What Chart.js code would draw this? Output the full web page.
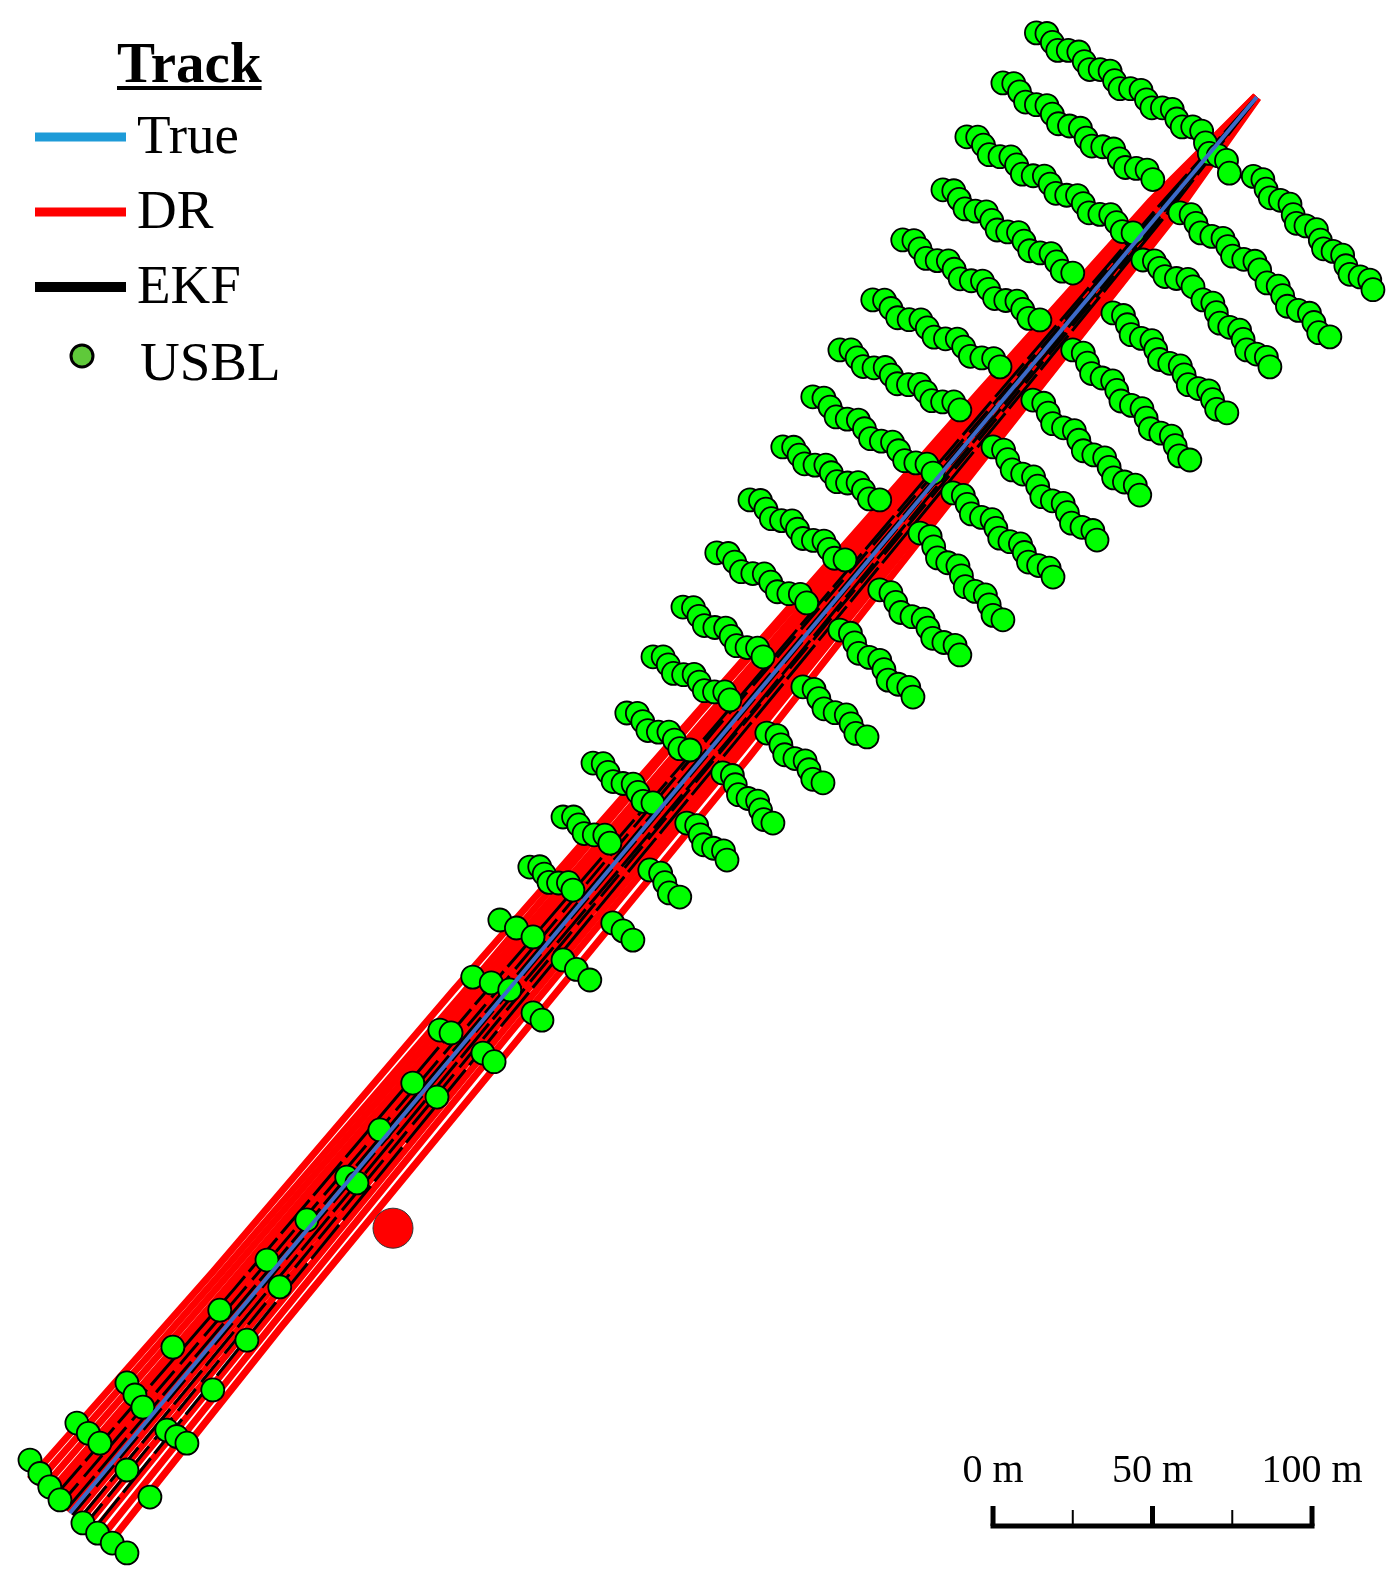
<!DOCTYPE html>
<html lang="en">
<head>
    <meta charset="UTF-8">
    <title>Vehicle track - True / DR / EKF / USBL</title>
    <script src="https://cdn.jsdelivr.net/npm/chart.js"></script>
    <style>
        html, body { margin: 0; padding: 0; background: #fff; }
        #wrap { position: relative; width: 1394px; height: 1581px; }
    </style>
</head>
<body>
    <div id="wrap"><canvas id="trackChart"></canvas></div>

    <script>
        // Map extent in metres, origin at the start of the true track
        const xRange = [-21.9, 415.1];
        const yRange = [-21.3, 474.3];

        // True track (x, y in m)
        const trueTrack = [[0, 0], [372.1, 443.9]];

        // Dead-reckoning runs
        const drTracks = [
            [[-12.6, 10.6], [44.9, 75.7], [120.2, 163.8], [196.6, 250.9], [284.6, 350.9], [338.8, 411.4], [371.7, 444.2]],
            [[-10.7, 9.0], [46.6, 74.3], [122.4, 162.0], [197.2, 250.5], [285.5, 350.2], [339.3, 410.9], [371.8, 444.2]],
            [[-8.8, 7.4], [48.2, 73.0], [123.8, 160.8], [199.1, 248.8], [286.3, 349.5], [339.8, 410.5], [371.8, 444.1]],
            [[-6.9, 5.8], [49.9, 71.6], [125.2, 159.6], [200.3, 247.8], [287.2, 348.7], [340.4, 410.0], [371.9, 444.1]],
            [[-5.4, 4.5], [51.2, 70.5], [126.3, 158.7], [201.3, 247.0], [287.8, 348.2], [340.8, 409.7], [371.9, 444.0]],
            [[-3.8, 3.2], [52.5, 69.4], [127.4, 157.7], [202.3, 246.2], [288.5, 347.6], [341.2, 409.3], [372.0, 444.0]],
            [[-2.3, 1.9], [53.8, 68.3], [128.5, 156.8], [203.2, 245.3], [289.2, 347.1], [341.7, 408.9], [372.0, 444.0]],
            [[-0.8, 0.6], [55.1, 67.2], [129.6, 155.9], [204.2, 244.5], [289.9, 346.5], [342.1, 408.6], [372.1, 443.9]],
            [[1.2, -1.0], [56.8, 65.8], [131.0, 154.7], [205.4, 243.5], [290.7, 345.8], [342.6, 408.1], [372.1, 443.9]],
            [[3.1, -2.6], [58.4, 64.4], [132.4, 153.5], [206.7, 242.5], [291.6, 345.1], [343.2, 407.7], [372.2, 443.8]],
            [[5.0, -4.2], [60.1, 63.0], [133.8, 152.4], [207.9, 241.4], [292.4, 344.4], [343.7, 407.2], [372.3, 443.8]],
            [[7.3, -6.1], [62.1, 61.4], [135.5, 150.9], [209.4, 240.2], [293.4, 343.5], [344.3, 406.7], [372.3, 443.7]],
            [[9.6, -8.0], [64.0, 59.7], [137.2, 149.5], [210.8, 239.0], [294.4, 342.7], [345.0, 406.2], [372.4, 443.7]],
            [[11.9, -10.0], [66.0, 58.0], [139.6, 147.4], [213.0, 237.0], [295.4, 341.8], [345.6, 405.6], [372.5, 443.6]]
        ];

        // EKF estimates
        const ekfTracks = [
            [[-5.4, 4.5], [51.5, 70.2], [126.4, 158.7], [202.0, 246.4], [288.3, 347.8], [341.1, 409.4], [372.0, 444.0]],
            [[-3.1, 2.6], [53.4, 68.7], [128.3, 157.0], [202.6, 245.9], [289.1, 347.1], [341.6, 409.0], [372.0, 443.9]],
            [[-1.2, 1.0], [54.9, 67.4], [129.5, 156.0], [204.1, 244.6], [289.8, 346.6], [342.0, 408.6], [372.1, 443.9]],
            [[0.8, -0.6], [56.4, 66.1], [130.7, 155.0], [205.1, 243.8], [290.5, 346.0], [342.5, 408.3], [372.1, 443.9]],
            [[2.7, -2.2], [58.0, 64.8], [131.9, 154.0], [206.6, 242.5], [291.2, 345.4], [342.9, 407.9], [372.2, 443.9]],
            [[4.6, -3.9], [59.5, 63.5], [133.1, 153.0], [207.0, 242.2], [291.9, 344.8], [343.3, 407.6], [372.2, 443.8]],
            [[6.9, -5.8], [61.3, 62.0], [134.5, 151.8], [208.2, 241.2], [292.7, 344.1], [343.8, 407.1], [372.2, 443.8]]
        ];

        // USBL fixes, one list per survey line segment
        const usblPasses = [
            [[303, 464], [306.3, 463.8], [308, 461], [309.7, 458.5], [313, 458.5], [316.3, 458], [318, 455], [319.7, 452.5], [323, 452.5], [326.1, 452], [327.5, 449], [329.2, 446.5], [332.5, 446.5], [335.8, 446], [337.5, 443], [339.2, 440.5], [342.5, 440.5], [345.6, 440], [347, 437], [348.7, 434.5], [352, 434.5], [354.8, 433.2], [356, 429.5], [357.2, 426.2], [360, 425.5], [362.6, 424], [363.5, 420]],
            [[371, 419], [374, 418], [375, 415], [376.3, 412.3], [379.5, 411.5], [382.5, 410.3], [383.5, 407], [384.5, 404.3], [387.5, 403.5], [390.8, 402.3], [392, 399], [393, 396.3], [396, 395.5], [399, 394.3], [400, 391], [401.3, 388.3], [404.5, 387.5], [407.5, 386.5], [408.5, 383.5]],
            [[292.5, 448.3], [295.9, 448.1], [297.7, 445.5], [299.6, 442.3], [303, 441.5], [306.3, 441.2], [308, 438.5], [309.9, 435.5], [313.4, 434.8], [316.8, 434.1], [318.6, 431], [320.4, 428.5], [323.8, 428.3], [327.2, 427.6], [329, 424.5], [330.9, 421.8], [334.3, 421.5], [337.7, 421], [339.5, 418]],
            [[348, 407.6], [351.5, 407], [353, 404.3], [354.5, 401.3], [358, 400.2], [361.5, 399.6], [363, 397], [364.5, 394], [368, 393], [371.5, 392.4], [373, 389.7]],
            [[375.3, 385.6], [378.8, 384.6], [380.2, 381.6], [381.7, 378.3], [385.1, 377], [388.6, 376.1], [390, 373.2], [391.5, 370], [395, 368.7]],
            [[281.2, 431.4], [284.6, 431.3], [286.4, 428.8], [288.2, 425.8], [291.6, 425.2], [295, 425.1], [296.8, 422.6], [298.6, 419.7], [302, 419.2], [305.5, 419.1], [307.3, 416.6], [309.1, 413.7], [312.5, 413.1], [315.9, 413], [317.7, 410.5], [319.5, 407.6], [322.9, 407.1], [326.3, 407], [328.1, 404.5], [329.9, 401.7], [333.3, 401.3]],
            [[336.4, 392.8], [340, 392.5], [341.6, 390.2], [343.3, 387.6], [346.9, 387], [350.5, 386.7], [352.1, 384.4]],
            [[355.2, 380.3], [358.3, 379.3], [359.4, 376.3], [360.5, 373], [363.6, 371.7], [366.7, 370.8], [367.8, 367.9], [368.9, 364.6], [372, 363.3], [375.1, 362.3], [376.2, 359.3]],
            [[273.7, 414.8], [277.1, 414.5], [278.8, 411.8], [280.6, 408.8], [283.9, 408.1], [287.3, 407.9], [289, 405.2], [290.7, 402.2], [294, 401.6], [297.4, 401.4], [299.1, 398.7], [300.9, 395.7], [304.2, 395], [307.6, 394.8], [309.3, 392.2], [311.1, 389.3], [314.4, 388.7]],
            [[327, 376.2], [330.3, 375.4], [331.5, 372.5], [332.7, 369.4], [335.9, 368.2], [339.2, 367.5], [340.4, 364.7], [341.6, 361.6], [344.8, 360.4], [348.1, 359.6], [349.3, 356.8], [350.6, 353.7], [353.8, 352.5], [357, 351.8], [358.2, 349], [359.5, 346], [362.7, 344.9]],
            [[261.1, 399.1], [264.6, 398.9], [266.5, 396.3], [268.4, 393.3], [271.9, 392.6], [275.4, 392.5], [277.2, 389.9], [279.1, 386.9], [282.6, 386.3], [286.1, 386.2], [288, 383.6], [289.9, 380.7], [293.4, 380.1], [296.9, 379.9], [298.7, 377.3], [300.6, 374.5], [304.1, 374]],
            [[314.4, 364.6], [317.7, 363.6], [319, 360.5], [320.3, 357.2], [323.6, 355.8], [326.9, 354.9], [328.2, 351.9], [329.5, 348.6], [332.8, 347.2], [336.1, 346.2], [337.4, 343.2], [338.7, 339.9], [342, 338.5], [345.3, 337.6], [346.5, 334.6], [347.8, 331.4], [351.1, 330.1]],
            [[251.7, 380.3], [255.4, 380.2], [257.4, 377.6], [259.5, 374.7], [263.1, 374.1], [266.8, 374], [268.8, 371.5], [270.9, 368.6], [274.5, 368.1], [278.2, 368], [280.2, 365.5], [282.3, 362.6], [285.9, 362.1], [289.6, 361.9], [291.6, 359.3]],
            [[301.9, 348.9], [305.3, 347.9], [306.7, 344.8], [308.1, 341.5], [311.5, 340.2], [314.9, 339.3], [316.3, 336.3], [317.7, 333], [321, 331.7], [324.4, 330.8], [325.8, 327.8], [327.2, 324.5], [330.6, 323.2], [334, 322.2], [335.4, 319.1]],
            [[241.4, 364.6], [244.9, 364.6], [246.8, 362.1], [248.7, 359.4], [252.1, 359], [255.6, 359.1], [257.5, 356.7], [259.4, 354], [262.9, 353.7], [266.4, 353.8], [268.3, 351.4], [270.2, 348.7], [273.6, 348.3], [277.1, 348.3], [279, 345.8]],
            [[289.4, 334.2], [292.7, 333.2], [294, 330.2], [295.4, 327], [298.7, 325.7], [302.1, 324.8], [303.4, 321.9], [304.7, 318.6], [308, 317.3], [311.4, 316.5], [312.7, 313.6], [314, 310.3], [317.3, 309], [320.7, 308], [322, 305]],
            [[232.9, 349.9], [236.4, 349.5], [238.3, 346.7], [240.2, 343.6], [243.7, 342.9], [247.2, 342.6], [249.1, 339.9], [251, 336.8], [254.4, 336], [257.9, 335.7], [259.8, 333], [261.7, 329.9], [265.2, 329.2], [268.7, 328.8], [270.6, 326]],
            [[276.8, 319.8], [280.1, 319], [281.3, 316.2], [282.6, 313.2], [285.8, 312.1], [289.1, 311.4], [290.3, 308.7], [291.5, 305.6], [294.7, 304.5], [298, 303.8], [299.2, 301.1], [300.5, 298.1], [303.7, 297], [307, 296.2], [308.2, 293.4]],
            [[223.5, 334.2], [226.9, 334.1], [228.6, 331.6], [230.3, 328.9], [233.6, 328.5], [237, 328.5], [238.7, 326.1], [240.5, 323.3], [243.8, 322.9], [247.1, 323], [248.8, 320.6], [250.6, 317.9], [253.9, 317.6]],
            [[266.5, 307.2], [269.7, 306.1], [270.8, 302.9], [272, 299.4], [275.2, 297.9], [278.4, 296.9], [279.5, 293.8], [280.7, 290.4], [283.8, 288.9], [287, 287.8], [288.2, 284.7], [289.4, 281.4], [292.5, 280]],
            [[213.2, 317.6], [216.5, 317.4], [218.2, 314.7], [219.9, 311.7], [223.1, 311.1], [226.4, 311], [228.1, 308.4], [229.8, 305.5], [233.1, 304.9], [236.4, 304.7], [238, 302.1], [239.7, 299.3], [243, 298.8]],
            [[253.9, 289.4], [257.4, 288.5], [258.9, 285.5], [260.5, 282.3], [264, 281], [267.5, 280.2], [269, 277.4], [270.5, 274.2], [274, 272.9], [277.5, 272], [279, 269]],
            [[202.8, 301], [206.4, 300.8], [208.4, 298.1], [210.5, 295.1], [214.1, 294.5], [217.7, 294.4], [219.7, 291.8], [221.8, 288.8], [225.4, 288.2], [229, 288], [231, 285.3]],
            [[241.4, 276.8], [244.7, 275.8], [246, 272.8], [247.3, 269.5], [250.6, 268.2], [253.9, 267.3], [255.2, 264.4], [256.5, 261.1], [259.7, 259.8], [263, 258.8], [264.3, 255.8]],
            [[192.2, 284], [195.5, 283.8], [197.2, 281.1], [198.9, 278.2], [202.2, 277.6], [205.6, 277.4], [207.3, 274.8], [209, 271.9], [212.3, 271.3], [215.6, 271.1], [217.3, 268.4]],
            [[229.8, 259], [233.3, 258.2], [234.8, 255.3], [236.4, 252.1], [239.9, 250.9], [243.4, 250.2], [244.9, 247.4], [246.4, 244.4], [249.9, 243.3]],
            [[182.8, 268.4], [186, 268.4], [187.6, 265.9], [189.2, 263.2], [192.4, 262.8], [195.7, 262.9], [197.3, 260.5], [198.9, 257.8], [202.1, 257.4], [205.3, 257.4], [206.9, 254.9]],
            [[218.5, 244.5], [221.7, 243.7], [222.9, 240.8], [224.1, 237.7], [227.3, 236.5], [230.5, 235.8], [231.7, 233], [232.9, 230], [236.1, 228.9]],
            [[174.6, 250.8], [177.9, 250.7], [179.6, 248.1], [181.2, 245.3], [184.5, 244.8], [187.8, 244.8], [189.5, 242.3], [191.2, 239.6], [194.4, 239.2]],
            [[204.7, 232], [207.7, 231.2], [208.6, 228.3], [209.6, 225.2], [212.6, 224], [215.6, 223.2], [216.5, 220.4], [217.5, 217.4], [220.4, 216.3]],
            [[164, 235.1], [167.2, 234.9], [168.7, 232.2], [170.3, 229.3], [173.4, 228.7], [176.6, 228.5], [178.1, 225.9], [179.7, 223.1], [182.8, 222.6]],
            [[193.4, 216.3], [196.5, 215.5], [197.6, 212.6], [198.7, 209.5], [201.8, 208.4], [204.9, 207.6], [206, 204.7]],
            [[154.6, 218.2], [157.9, 218.2], [159.5, 215.7], [161.2, 213], [164.4, 212.6], [167.7, 212.5], [169.3, 210]],
            [[181.8, 201.6], [185.2, 200.6], [186.5, 197.6], [187.9, 194.4], [191.2, 193.1]],
            [[144.2, 202.5], [147.3, 202.6], [148.7, 200.3], [150.2, 197.7], [153.2, 197.5], [156.3, 197.6], [157.7, 195.3]],
            [[170.2, 185], [173.4, 182.5], [176.5, 179.6]],
            [[134.8, 185.9], [140, 183.4], [145.2, 180.6]],
            [[154.6, 173.4], [158.8, 170.4], [163, 167.1]],
            [[126.3, 168], [132.1, 166.2], [137.9, 164]],
            [[145.2, 156.8], [148, 154.5]],
            [[116, 151.4], [119.5, 150.5]],
            [[129.5, 144.2], [133, 141.5]],
            [[107.5, 134.8]], [[115.1, 130.4]],
            [[97.2, 120.1]],
            [[86.8, 105.3], [90, 103.5]],
            [[74.3, 91.9]],
            [[61.8, 79.3]], [[65.8, 70.9]],
            [[47, 63.6]], [[55.5, 54.2]],
            [[32.3, 52]], [[44.8, 38.6]],
            [[17.9, 40.8], [20.4, 37], [22.9, 33.2]],
            [[30.4, 26], [33.5, 24], [36.7, 21.9]],
            [[2.2, 28.2], [5.8, 25], [9.4, 21.9]],
            [[17.9, 13.5], [25.1, 5]],
            [[-12.5, 16.6], [-9.4, 12.4], [-6.3, 8.2], [-3.1, 4.1]],
            [[4.1, -3.1], [8.7, -6.3], [13.3, -9.4], [17.9, -12.5]]
        ];

        // Single large DR marker off the track
        const drOutlier = [[101.3, 89.3]];

        // Scale bar: left end (m, on the x scale), ticks and labels
        const scaleBarStart = 289.4;
        const scaleBarMajor = [0, 50, 100];
        const scaleBarMinor = [25, 75];
        const scaleBarLabels = ['0 m', '50 m', '100 m'];

        const toXY = pts => pts.map(([x, y]) => ({ x, y }));
        const serif = '"Liberation Serif", "Times New Roman", serif';

        // Legend box and scale bar, drawn on top of the plot
        const mapDecor = {
            id: 'mapDecor',
            afterDraw(chart) {
                const ctx = chart.ctx;
                ctx.save();
                ctx.fillStyle = '#000';
                ctx.textBaseline = 'alphabetic';
                ctx.textAlign = 'left';

                ctx.font = 'bold 57px ' + serif;
                ctx.fillText('Track', 117, 82);
                ctx.fillRect(117, 86, ctx.measureText('Track').width, 4);

                const rows = [
                    { label: 'True', color: '#1E9BD8', width: 9, y: 137, base: 153 },
                    { label: 'DR', color: '#FF0000', width: 9, y: 212, base: 228 },
                    { label: 'EKF', color: '#000000', width: 10, y: 287, base: 303 }
                ];
                ctx.font = '55px ' + serif;
                rows.forEach(r => {
                    ctx.strokeStyle = r.color;
                    ctx.lineWidth = r.width;
                    ctx.beginPath();
                    ctx.moveTo(35, r.y);
                    ctx.lineTo(126, r.y);
                    ctx.stroke();
                    ctx.fillStyle = '#000';
                    ctx.fillText(r.label, 137, r.base);
                });
                ctx.beginPath();
                ctx.arc(82, 356, 11, 0, Math.PI * 2);
                ctx.fillStyle = '#5FC93A';
                ctx.fill();
                ctx.lineWidth = 3;
                ctx.strokeStyle = '#000';
                ctx.stroke();
                ctx.fillStyle = '#000';
                ctx.fillText('USBL', 140, 380);

                // scale bar tied to the x scale
                const xs = chart.scales.x;
                const px = d => xs.getPixelForValue(scaleBarStart + d);
                const barY = 1526;
                ctx.strokeStyle = '#000';
                ctx.lineCap = 'butt';
                ctx.lineWidth = 5;
                ctx.beginPath();
                ctx.moveTo(px(0) - 2.5, barY);
                ctx.lineTo(px(100) + 2.5, barY);
                ctx.stroke();
                scaleBarMajor.forEach(d => {
                    ctx.beginPath();
                    ctx.moveTo(px(d), barY);
                    ctx.lineTo(px(d), 1506);
                    ctx.stroke();
                });
                ctx.lineWidth = 2;
                scaleBarMinor.forEach(d => {
                    ctx.beginPath();
                    ctx.moveTo(px(d), barY);
                    ctx.lineTo(px(d), 1510);
                    ctx.stroke();
                });
                ctx.font = '40px ' + serif;
                ctx.textAlign = 'center';
                scaleBarMajor.forEach((d, i) => ctx.fillText(scaleBarLabels[i], px(d), 1482));
                ctx.restore();
            }
        };

        const datasets = [
            {
                label: 'True',
                data: toXY(trueTrack),
                showLine: true,
                borderColor: '#3D6BC9',
                borderWidth: 4,
                pointRadius: 0,
                order: 0
            },
            {
                label: 'USBL',
                data: toXY(usblPasses.flat()),
                backgroundColor: '#00FF00',
                borderColor: '#000000',
                borderWidth: 1.8,
                pointRadius: 11.5,
                order: 1
            },
            {
                label: 'DR outlier',
                data: toXY(drOutlier),
                backgroundColor: '#FF0000',
                borderColor: '#333333',
                borderWidth: 1,
                pointRadius: 20,
                order: 1
            }
        ];
        ekfTracks.forEach((t, i) => datasets.push({
            label: 'EKF',
            data: toXY(t),
            showLine: true,
            borderColor: '#000000',
            borderWidth: 3,
            borderDash: i % 2 ? [28, 9] : [44, 6],
            pointRadius: 0,
            order: 2
        }));
        drTracks.forEach(t => datasets.push({
            label: 'DR',
            data: toXY(t),
            showLine: true,
            borderColor: '#FF0000',
            borderWidth: 7,
            pointRadius: 0,
            order: 3
        }));

        new Chart(document.getElementById('trackChart'), {
            type: 'scatter',
            data: { datasets },
            options: {
                responsive: true,
                maintainAspectRatio: false,
                animation: false,
                events: [],
                layout: { padding: 0, autoPadding: false },
                scales: {
                    x: { type: 'linear', min: xRange[0], max: xRange[1], display: false },
                    y: { type: 'linear', min: yRange[0], max: yRange[1], display: false }
                },
                plugins: {
                    legend: { display: false },
                    tooltip: { enabled: false }
                }
            },
            plugins: [mapDecor]
        });
    </script>
</body>
</html>
